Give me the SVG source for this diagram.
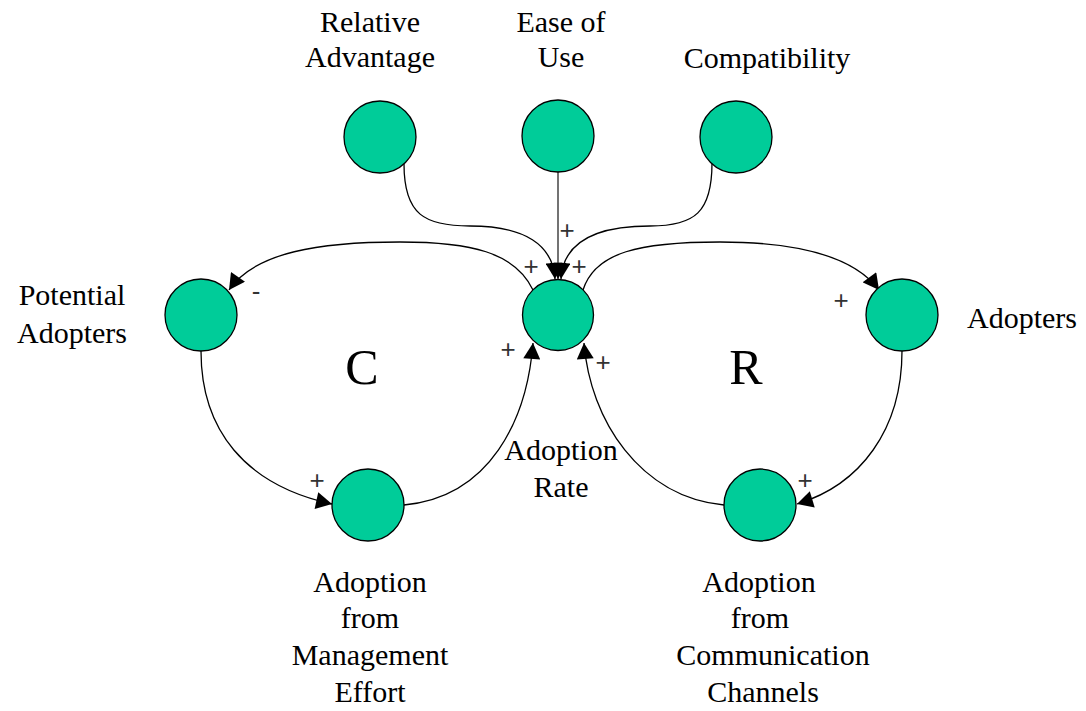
<svg xmlns="http://www.w3.org/2000/svg" width="1086" height="711" viewBox="0 0 1086 711">
<defs>
<style>
.node{fill:#00CC99;stroke:#000;stroke-width:1.3}
.lbl{font-family:"Liberation Serif","Times New Roman",serif;font-size:30px;fill:#000;text-anchor:middle}
.big{font-family:"Liberation Serif","Times New Roman",serif;font-size:50px;fill:#000;text-anchor:middle}
.sign{font-family:"Liberation Sans",Arial,sans-serif;font-size:26px;fill:#333;text-anchor:middle;dominant-baseline:central}
.link{fill:none;stroke:#000;stroke-width:1.3}
</style>
<marker id="arr" markerUnits="userSpaceOnUse" markerWidth="17" markerHeight="17" viewBox="0 0 15 16" refX="15" refY="8" orient="auto">
<path d="M0,0 L15,8 L0,16 z" fill="#000"/>
</marker>
</defs>
<rect width="1086" height="711" fill="#fff"/>
<g id="connectors">
<path class="link" d="M404,164 C404,215 425,226 470,226 C525,226 553,245 555,279" marker-end="url(#arr)"/>
<path class="link" d="M558,172 L558,279" style="stroke:#444;stroke-width:1.5" marker-end="url(#arr)"/>
<path class="link" d="M712,163 C712,212 695,226 650,226 C590,226 563,245 561,279" marker-end="url(#arr)"/>
<path class="link" d="M533,290 C515,252 470,242 400,242 C320,242 255,252 229,290" marker-end="url(#arr)"/>
<path class="link" d="M583,290 C595,252 640,242 720,242 C800,242 855,258 879,290" marker-end="url(#arr)"/>
<path class="link" d="M201,351 C201,430 245,485 332,504" marker-end="url(#arr)"/>
<path class="link" d="M404,505 C490,497 527,420 533,343" marker-end="url(#arr)"/>
<path class="link" d="M902,351 C902,430 860,485 797,504" marker-end="url(#arr)"/>
<path class="link" d="M724,505 C640,497 590,420 584,343" marker-end="url(#arr)"/>
</g>
<g id="signs">
<text class="sign" x="567" y="230">+</text>
<text class="sign" x="531" y="266">+</text>
<text class="sign" x="579" y="266">+</text>
<text class="sign" x="256" y="291">-</text>
<text class="sign" x="841" y="300">+</text>
<text class="sign" x="508" y="349">+</text>
<text class="sign" x="603" y="362">+</text>
<text class="sign" x="317" y="480">+</text>
<text class="sign" x="805" y="480">+</text>
</g>
<g id="relative-advantage">
<circle class="node" cx="380" cy="137" r="36"/>
<text class="lbl" x="370" y="32">Relative</text>
<text class="lbl" x="370" y="67">Advantage</text>
</g>
<g id="ease-of-use">
<circle class="node" cx="558" cy="136" r="36"/>
<text class="lbl" x="561" y="32">Ease of</text>
<text class="lbl" x="561" y="67">Use</text>
</g>
<g id="compatibility">
<circle class="node" cx="736" cy="137" r="36"/>
<text class="lbl" x="767" y="68">Compatibility</text>
</g>
<g id="potential-adopters">
<circle class="node" cx="201" cy="315" r="36"/>
<text class="lbl" x="72" y="305">Potential</text>
<text class="lbl" x="72" y="343">Adopters</text>
</g>
<g id="adoption-rate">
<circle class="node" cx="558" cy="315" r="35.5"/>
<text class="lbl" x="561" y="460">Adoption</text>
<text class="lbl" x="561" y="497">Rate</text>
</g>
<g id="adopters">
<circle class="node" cx="902" cy="315" r="36"/>
<text class="lbl" x="1022" y="328">Adopters</text>
</g>
<g id="adoption-from-management-effort">
<circle class="node" cx="368" cy="505" r="36"/>
<text class="lbl" x="370" y="592">Adoption</text>
<text class="lbl" x="370" y="628">from</text>
<text class="lbl" x="370" y="665">Management</text>
<text class="lbl" x="370" y="702">Effort</text>
</g>
<g id="adoption-from-communication-channels">
<circle class="node" cx="760" cy="505" r="36"/>
<text class="lbl" x="759" y="592">Adoption</text>
<text class="lbl" x="760" y="628">from</text>
<text class="lbl" x="773" y="665">Communication</text>
<text class="lbl" x="763" y="702">Channels</text>
</g>
<g id="loop-labels">
<text class="big" x="362" y="384">C</text>
<text class="big" x="746" y="384">R</text>
</g>
</svg>
